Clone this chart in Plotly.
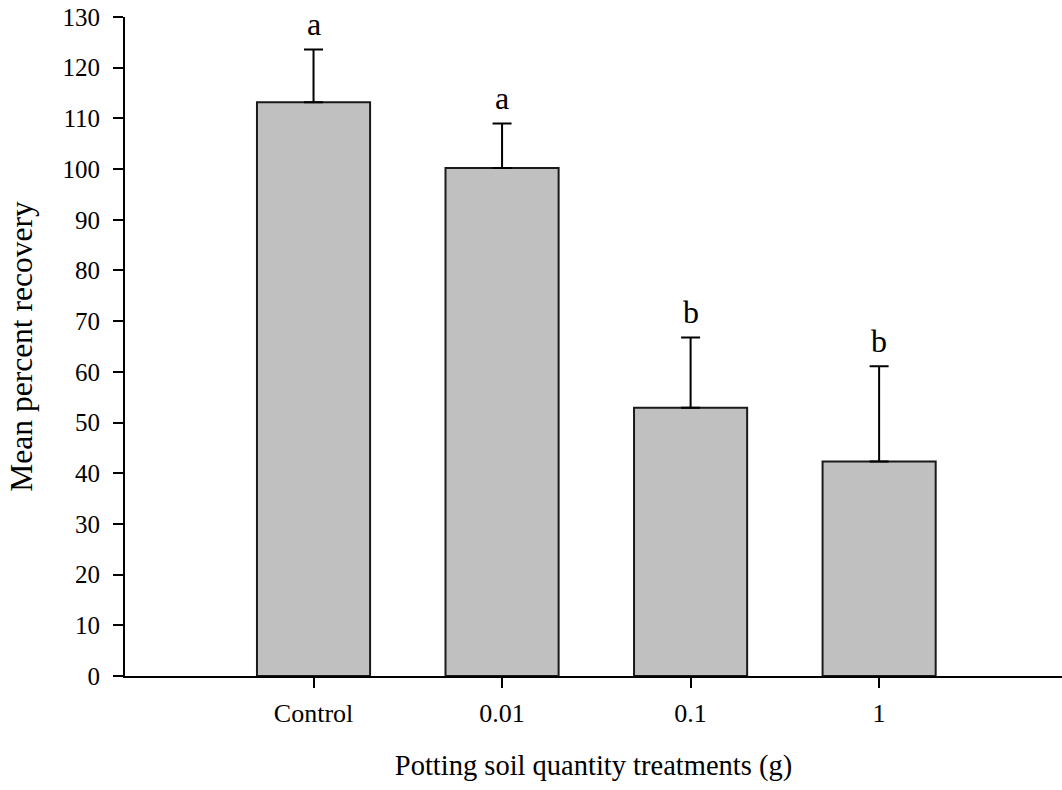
import plotly.graph_objects as go

categories = ["Control", "0.01", "0.1", "1"]
means = [113.2, 100.2, 52.9, 42.3]
errors = [10.4, 8.8, 13.9, 18.8]
letters = ["a", "a", "b", "b"]
y_ticks = list(range(0, 131, 10))

FONT = "Liberation Serif, Times New Roman, serif"

fig = go.Figure()
fig.add_trace(go.Bar(
    x=categories, y=means,
    width=0.6,
    marker=dict(color="#c0c0c0", line=dict(color="#1a1a1a", width=2)),
    error_y=dict(type="data", symmetric=False, array=errors,
                 arrayminus=[0] * len(errors),
                 color="black", thickness=2, width=9.5),
    showlegend=False,
))

for i, (m, e, l) in enumerate(zip(means, errors, letters)):
    fig.add_annotation(x=i, y=m + e, text=l, showarrow=False,
                       xref="x", yref="y",
                       yanchor="middle", yshift=25,
                       font=dict(family=FONT, size=32, color="black"))

fig.update_layout(
    width=1062, height=790,
    margin=dict(l=125, r=0, t=17, b=114),
    plot_bgcolor="white", paper_bgcolor="white",
    font=dict(family=FONT, color="black"),
    xaxis=dict(
        type="category", range=[-1, 3.97],
        showline=True, linecolor="black", linewidth=2,
        ticks="outside", ticklen=10, tickwidth=2, tickcolor="black",
        tickfont=dict(size=26), showgrid=False, zeroline=False,
        ticklabelstandoff=3,
        title=dict(text="Potting soil quantity treatments (g)",
                   font=dict(size=28.5), standoff=28),
    ),
    yaxis=dict(
        range=[0, 130], tickvals=y_ticks,
        showline=True, linecolor="black", linewidth=2,
        ticks="outside", ticklen=10, tickwidth=2, tickcolor="black",
        tickfont=dict(size=25), showgrid=False, zeroline=False,
        ticklabelstandoff=8,
        title=dict(text="Mean percent recovery", font=dict(size=31.5), standoff=20),
    ),
)

fig.write_html("out.html")
